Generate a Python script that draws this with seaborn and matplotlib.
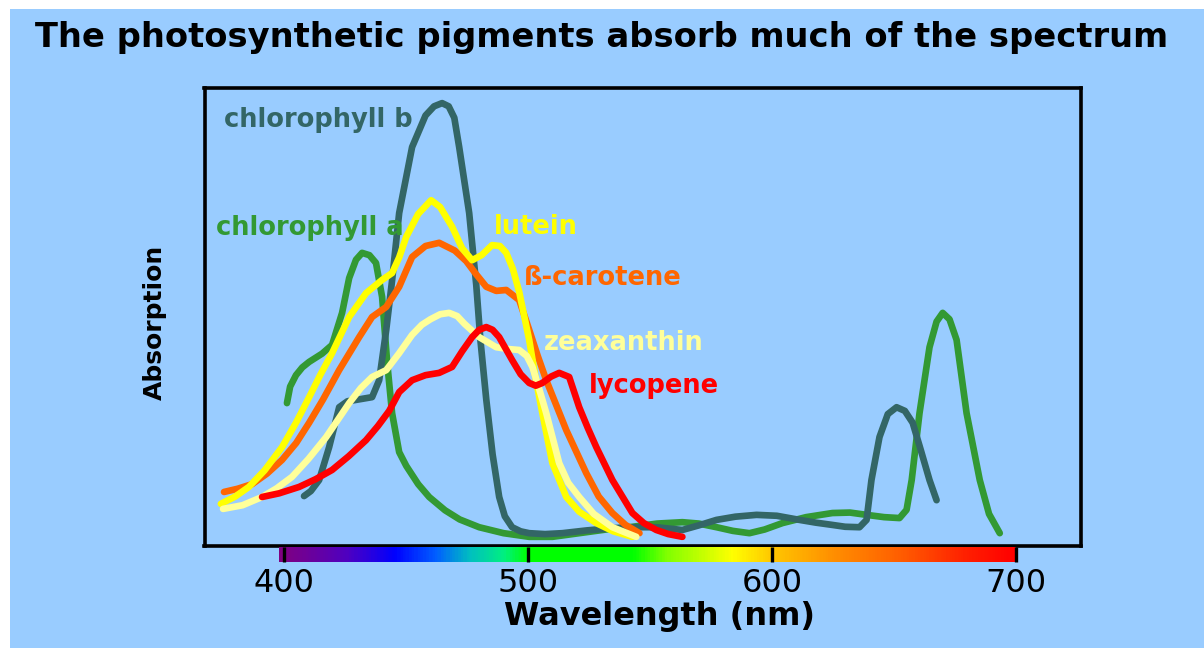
import numpy as np
import matplotlib
matplotlib.use('Agg')
import matplotlib.pyplot as plt
import seaborn as sns
from matplotlib.colors import LinearSegmentedColormap
from matplotlib.patches import Rectangle

sns.set_theme(style='white')
plt.rcParams['font.family'] = ['DejaVu Sans']

BG = '#99CCFF'

# --- pigment absorption curves (wavelength nm, relative absorption 0-100) ---
chla_wl = [401.2, 402.5, 404.9, 407.5, 410.3, 415.6, 419.7, 423.8, 426.7, 429.5, 432.0, 435.0, 437.7, 440.2,
           442.3, 444.3, 447.2, 450.1, 455.0, 459.5, 466.0, 472.0, 480.0, 490.0, 500.5, 510.0, 521.0, 532.0,
           543.0, 553.0, 563.3, 570.0, 577.3, 584.0, 590.8, 597.0, 604.3, 614.0, 624.8, 632.0, 638.8, 646.0,
           652.3, 655.2, 657.3, 660.5, 664.6, 667.5, 670.0, 672.8, 675.7, 679.8, 685.2, 689.0, 693.4]
chla_abs = [31.2, 34.8, 37.3, 39.0, 40.2, 42.0, 43.9, 50.9, 58.5, 62.5, 64.0, 63.5, 61.8, 54.4,
            40.0, 29.0, 20.5, 17.5, 13.5, 10.7, 7.8, 5.8, 4.1, 2.8, 2.0, 2.0, 2.8, 3.6,
            4.2, 4.9, 5.2, 4.9, 4.1, 3.3, 2.8, 3.6, 5.0, 6.3, 7.2, 7.3, 6.8, 6.3,
            6.1, 7.9, 14.4, 29.0, 43.4, 49.0, 50.9, 49.5, 45.0, 29.0, 14.4, 7.0, 2.8]

chlb_wl = [408.2, 411.0, 414.4, 418.5, 422.6, 426.0, 429.5, 436.1, 439.0, 441.9, 444.3, 447.2, 452.5, 458.0,
           461.5, 464.8, 467.5, 469.8, 471.8, 475.9, 478.8, 480.5, 482.9, 485.5, 488.2, 490.5, 493.5, 497.0,
           500.5, 507.0, 514.1, 524.0, 534.6, 544.0, 552.6, 563.3, 570.0, 577.3, 585.0, 593.7, 602.0, 611.3,
           618.0, 624.8, 630.0, 635.9, 638.8, 640.8, 644.1, 647.5, 651.1, 654.5, 657.7, 661.0, 664.6, 667.5]
chlb_abs = [10.9, 12.0, 14.4, 21.6, 30.3, 31.6, 31.9, 32.5, 36.2, 47.2, 58.0, 72.7, 87.1, 94.0,
            96.0, 96.7, 96.0, 93.5, 87.1, 72.7, 57.0, 45.0, 32.0, 20.0, 10.7, 6.5, 4.1, 3.2,
            2.8, 2.6, 2.8, 3.4, 3.9, 4.1, 4.1, 3.5, 4.5, 5.7, 6.4, 6.8, 6.6, 5.7,
            5.1, 4.6, 4.2, 4.1, 5.7, 14.4, 23.8, 28.8, 30.3, 29.5, 26.9, 21.0, 14.4, 10.0]

lut_wl = [374.1, 380.0, 385.6, 392.0, 399.2, 405.0, 410.3, 415.0, 419.7, 426.7, 433.6, 440.2, 444.3, 447.2,
          450.1, 455.0, 460.3, 464.0, 468.9, 473.0, 477.1, 481.0, 485.3, 488.5, 491.1, 493.8, 496.4, 500.5,
          503.0, 505.9, 510.0, 515.7, 521.0, 528.0, 535.0, 542.8]
lut_abs = [9.2, 10.8, 12.9, 16.5, 21.6, 27.0, 32.5, 37.5, 42.1, 50.0, 55.2, 58.1, 59.6, 63.0,
           67.5, 72.5, 75.5, 74.0, 69.7, 65.0, 62.4, 63.5, 65.7, 65.5, 64.0, 60.5, 55.5, 45.0,
           37.0, 29.0, 18.1, 10.7, 7.5, 5.0, 3.2, 2.0]

bc_wl = [375.4, 381.0, 386.9, 393.0, 399.2, 405.0, 410.3, 416.0, 422.6, 430.8, 436.1, 441.9, 447.2, 452.5,
         458.0, 463.6, 470.0, 474.7, 478.5, 482.9, 487.0, 491.1, 496.4, 500.5, 504.0, 507.5, 515.7, 523.9,
         529.0, 534.6, 540.0, 545.7]
bc_abs = [11.8, 12.5, 13.5, 15.8, 18.8, 22.5, 26.9, 32.0, 38.4, 45.6, 50.0, 52.2, 56.6, 63.1,
          65.5, 66.2, 64.5, 62.2, 59.5, 56.6, 55.7, 55.9, 53.7, 47.2, 41.5, 36.2, 25.3, 15.9,
          10.8, 7.2, 4.6, 2.8]

zx_wl = [375.0, 383.0, 391.0, 397.0, 403.3, 410.0, 417.3, 422.0, 426.7, 431.5, 436.1, 441.9, 447.2, 452.5,
         456.5, 460.0, 464.0, 467.7, 471.0, 474.0, 480.0, 487.0, 492.0, 496.4, 499.5, 501.8, 504.5, 507.5,
         512.8, 516.5, 521.0, 527.0, 534.6, 544.4]
zx_abs = [8.1, 8.9, 10.7, 12.6, 15.1, 19.0, 23.8, 27.5, 31.2, 34.5, 36.9, 38.4, 42.1, 46.1,
          48.3, 49.5, 50.6, 50.9, 50.2, 48.5, 45.6, 43.4, 43.0, 42.8, 41.5, 39.1, 34.5, 29.0,
          18.1, 13.8, 10.7, 7.0, 4.1, 2.0]

ly_wl = [391.0, 398.0, 406.2, 413.0, 419.7, 426.5, 433.6, 438.5, 443.1, 447.2, 452.5, 458.0, 463.6, 468.9,
         473.0, 477.1, 480.0, 482.9, 485.5, 488.2, 493.5, 497.0, 500.5, 503.2, 505.9, 509.5, 512.8, 516.9,
         521.0, 524.5, 528.0, 534.6, 542.8, 547.5, 552.6, 557.5, 563.3]
ly_abs = [10.7, 11.5, 12.9, 14.6, 16.6, 19.6, 23.1, 26.2, 29.5, 33.6, 36.2, 37.3, 37.8, 39.1,
          42.5, 45.6, 47.2, 47.8, 47.2, 45.6, 40.6, 37.5, 35.6, 35.0, 35.6, 37.0, 37.8, 36.9,
          30.3, 25.8, 21.6, 14.4, 7.2, 5.0, 3.5, 2.6, 2.0]

curves = [
    ('chlorophyll a', chla_wl, chla_abs, '#339933'),
    ('chlorophyll b', chlb_wl, chlb_abs, '#336666'),
    ('ß-carotene', bc_wl, bc_abs, '#FF6600'),
    ('lutein', lut_wl, lut_abs, '#FFFF00'),
    ('zeaxanthin', zx_wl, zx_abs, '#FFFF99'),
    ('lycopene', ly_wl, ly_abs, '#FF0000'),
]

# label anchors (wavelength, absorption)
label_pos = {
    'chlorophyll b': (375.4, 93.0),
    'chlorophyll a': (372.1, 69.4),
    'lutein': (486.2, 69.7),
    'ß-carotene': (498.5, 58.5),
    'zeaxanthin': (506.7, 44.3),
    'lycopene': (525.1, 34.9),
}

# visible spectrum bar
spec_wl = [398, 425, 445, 462, 476, 490, 500, 543, 557, 584, 600, 625, 652, 680, 700]
spec_col = ['#800080', '#5000C0', '#0000FF', '#0060FF', '#00C0C0', '#00F080', '#00FF00', '#00FF00',
            '#80FF00', '#FFFF00', '#FFC800', '#FF9000', '#FF6000', '#FF2000', '#FF0000']
tick_wl = [400, 500, 600, 700]

XLIM = (367.4, 726.7)

fig = plt.figure(figsize=(12.04, 6.48), dpi=100)
fig.patch.set_facecolor('white')
fig.add_artist(Rectangle((10 / 1204, 0), 1, 1 - 9 / 648, transform=fig.transFigure,
                         facecolor=BG, edgecolor='none', zorder=-10))

ax = fig.add_axes([204.5 / 1204, 1 - 546 / 648, (1081 - 204.5) / 1204, (546 - 88) / 648])
ax.set_facecolor(BG)

for name, wl, ab, col in curves:
    sns.lineplot(x=wl, y=ab, ax=ax, color=col, linewidth=4.8, sort=False, estimator=None,
                 solid_capstyle='round', solid_joinstyle='round')
    lx, ly = label_pos[name]
    ax.text(lx, ly, name, color=col, fontsize=18.5, fontweight='bold', ha='left', va='center')

ax.set_xlim(*XLIM)
ax.set_ylim(0, 100)
ax.set_xticks([])
ax.set_yticks([])
ax.set_xlabel('')
ax.set_ylabel('')
for s in ax.spines.values():
    s.set_visible(True)
    s.set_color('black')
    s.set_linewidth(2.6)

# spectrum strip under the axis
bax = fig.add_axes([204.5 / 1204, 1 - 562 / 648, (1081 - 204.5) / 1204, 15 / 648])
pos = [(w - spec_wl[0]) / (spec_wl[-1] - spec_wl[0]) for w in spec_wl]
cmap = LinearSegmentedColormap.from_list('spec', list(zip(pos, spec_col)))
bax.imshow(np.linspace(0, 1, 600)[None, :], extent=[spec_wl[0], spec_wl[-1], 0, 1],
           aspect='auto', cmap=cmap, zorder=0)
bax.set_xlim(*XLIM)
bax.set_ylim(0, 1)
bax.patch.set_alpha(0)
for s in bax.spines.values():
    s.set_visible(False)
bax.set_yticks([])
bax.set_xticks(tick_wl)
bax.set_xticklabels([str(t) for t in tick_wl])
bax.tick_params(axis='x', direction='in', length=10.8, width=2.4, color='black',
                labelsize=23, pad=4, labelcolor='black', bottom=True)

fig.text(35 / 1204, 1 - 47 / 648, 'The photosynthetic pigments absorb much of the spectrum',
         fontsize=24.3, fontweight='bold', ha='left', va='baseline', color='black')
fig.text(659 / 1204, 1 - 625 / 648, 'Wavelength (nm)', fontsize=23, fontweight='bold',
         ha='center', va='baseline', color='black')
fig.text(155 / 1204, 1 - 322 / 648, 'Absorption', fontsize=18, fontweight='bold', rotation=90,
         ha='center', va='center', color='black')

fig.savefig('out.png', dpi=100, facecolor=fig.get_facecolor())
